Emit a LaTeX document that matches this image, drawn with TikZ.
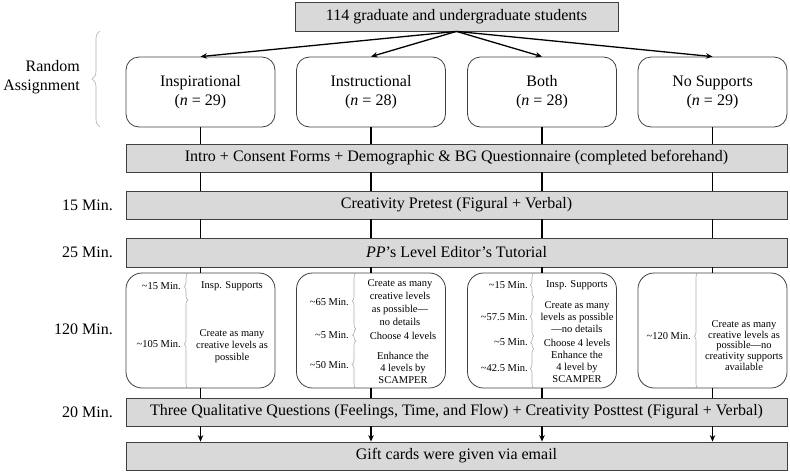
\documentclass[tikz,border=0pt]{standalone}
\usepackage{fontspec}
\setmainfont{Liberation Serif}
\usetikzlibrary{arrows.meta,decorations.pathreplacing,calc}
\begin{document}
\begin{tikzpicture}[x=1pt,y=-1pt,
  gbox/.style={draw=black!75, line width=0.8pt, fill=gray!30, inner sep=0pt, minimum height=28pt, font=\fontsize{16}{19}\selectfont},
  rbox/.style={draw=black!75, line width=0.8pt, rounded corners=13pt, inner sep=0pt, minimum width=149pt},
  grp/.style={rbox, minimum height=70pt, align=center, font=\fontsize{16}{19}\selectfont},
  lowbox/.style={rbox, minimum height=115pt, rounded corners=16pt},
  conn/.style={line width=1.3pt, black},
  arr/.style={conn, -{Stealth[length=6.5pt,width=5.5pt]}},
  brc/.style={draw=gray!65, line width=0.6pt, decorate, decoration={brace, amplitude=#1}},
  brc/.default=4pt,
  lbl/.style={font=\fontsize{16}{19}\selectfont, anchor=east, inner sep=0pt},
  small/.style={font=\fontsize{10.5}{12.2}\selectfont, align=center, inner sep=0pt},
  slbl/.style={font=\fontsize{10.5}{12}\selectfont, anchor=east, inner sep=0pt}
]
\useasboundingbox (0,0) rectangle (790,474);

% top box
\node[gbox, minimum width=323pt, minimum height=29pt] (top) at (456.5,16.5) {114 graduate and undergraduate students};

% group boxes
\node[grp] (g1) at (200.5,92) {Inspirational\\(\textit{n} = 29)};
\node[grp] (g2) at (371,92) {Instructional\\(\textit{n} = 28)};
\node[grp] (g3) at (542,92) {Both\\(\textit{n} = 28)};
\node[grp] (g4) at (712.5,92) {No Supports\\(\textit{n} = 29)};

% random assignment
\node[lbl, align=right] (ra) at (80,77) {Random\\Assignment};
\draw[brc=8pt] (100,127) -- (100,31);

% long gray boxes
\node[gbox, minimum width=661pt] (intro) at (456.5,158) {Intro + Consent Forms + Demographic \& BG Questionnaire (completed beforehand)};
\node[gbox, minimum width=661pt] (pre) at (456.5,205) {Creativity Pretest (Figural + Verbal)};
\node[gbox, minimum width=661pt, minimum height=29pt] (tut) at (456.5,252.5) {\textit{PP}’s Level Editor’s Tutorial};
\node[gbox, minimum width=661pt] (three) at (456.5,412) {Three Qualitative Questions (Feelings, Time, and Flow) + Creativity Posttest (Figural + Verbal)};
\node[gbox, minimum width=661pt] (gift) at (456.5,456) {Gift cards were given via email};

% left time labels
\node[lbl] (m15) at (113,205) {15 Min.};
\node[lbl] (m25) at (113,252.5) {25 Min.};
\node[lbl] (m120) at (113,329) {120 Min.};
\node[lbl] (m20) at (113,412) {20 Min.};

% lower rounded boxes
\node[lowbox] (l1) at (200.5,330.5) {};
\node[lowbox] (l2) at (371,330.5) {};
\node[lowbox] (l3) at (542,330.5) {};
\node[lowbox] (l4) at (712.5,330.5) {};

% connectors
\foreach \i in {1,...,4}{
  \draw[arr] (top.south) -- (g\i.north);
  \draw[conn] (g\i.south) -- (g\i.south |- intro.north);
  \draw[conn] (g\i.south |- intro.south) -- (g\i.south |- pre.north);
  \draw[conn] (g\i.south |- pre.south) -- (g\i.south |- tut.north);
  \draw[conn] (g\i.south |- tut.south) -- (l\i.north);
  \draw[conn] (l\i.south) -- (l\i.south |- three.north);
  \draw[arr] (l\i.south |- three.south) -- (l\i.south |- gift.north);
}

% box 1 content
\draw[brc] (188,300) -- (188,273);
\draw[brc] (188,388) -- (188,300);
\node[slbl] (b1a) at (181,286.5) {\textasciitilde15 Min.};
\node[slbl] (b1b) at (181,344) {\textasciitilde105 Min.};
\node[small] (c1a) at (232,286.5) {Insp. Supports};
\node[small] (c1b) at (232,346) {Create as many\\creative levels as\\possible};

% box 2 content
\draw[brc] (356,329) -- (356,273);
\draw[brc=3.5pt] (356,341) -- (356,329);
\draw[brc] (356,388) -- (356,341);
\node[slbl] (b2a) at (349,302) {\textasciitilde65 Min.};
\node[slbl] (b2b) at (349,335.5) {\textasciitilde5 Min.};
\node[slbl] (b2c) at (349,365.5) {\textasciitilde50 Min.};
\node[small, font=\fontsize{10.5}{13}\selectfont] (c2a) at (400,302.5) {Create as many\\creative levels\\as possible—\\no details};
\node[small] (c2b) at (403,336) {Choose 4 levels};
\node[small] (c2c) at (403,368) {Enhance the\\4 levels by\\SCAMPER};

% box 3 content
\draw[brc] (534,297) -- (534,273);
\draw[brc] (534,336) -- (534,297);
\draw[brc=3.5pt] (534,349) -- (534,336);
\draw[brc] (534,388) -- (534,349);
\node[slbl] (b3a) at (528,285) {\textasciitilde15 Min.};
\node[slbl] (b3b) at (528,317) {\textasciitilde57.5 Min.};
\node[slbl] (b3c) at (528,342.5) {\textasciitilde5 Min.};
\node[slbl] (b3d) at (528,368.5) {\textasciitilde42.5 Min.};
\node[small] (c3a) at (577,285) {Insp. Supports};
\node[small] (c3b) at (577,317) {Create as many\\levels as possible\\—no details};
\node[small] (c3c) at (577,343) {Choose 4 levels};
\node[small] (c3d) at (577,367) {Enhance the\\4 level by\\SCAMPER};

% box 4 content
\draw[brc] [decoration={brace, amplitude=4pt, aspect=0.45}] (698,388) -- (698,273);
\node[slbl] (b4a) at (691,336) {\textasciitilde120 Min.};
\node[small, font=\fontsize{10.5}{10.9}\selectfont] (c4a) at (744,345.5) {Create as many\\creative levels as\\possible—no\\creativity supports\\available};
\end{tikzpicture}
\end{document}
